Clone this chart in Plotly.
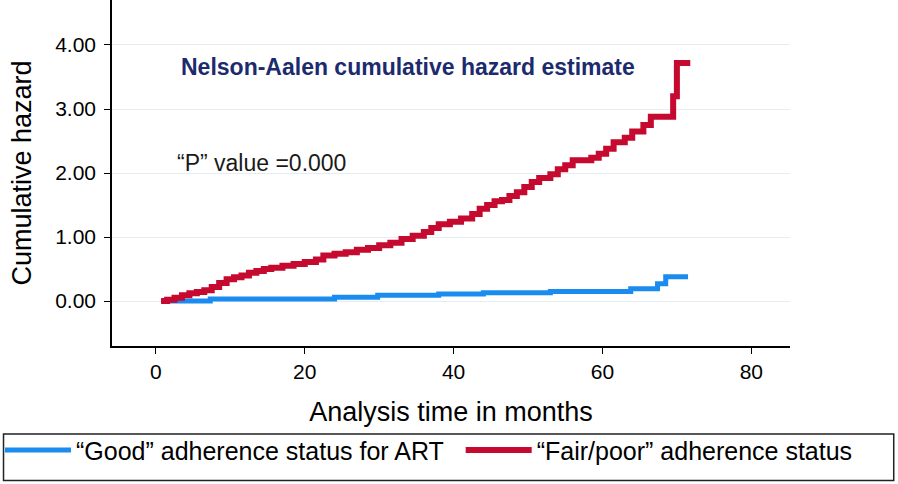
import plotly.graph_objects as go

# Nelson-Aalen cumulative hazard (step points: time in months, hazard)
good_time = [0.7, 7.3, 24.0, 29.8, 38.0, 44.0, 53.0, 63.8, 67.4, 68.5, 71.5]
good_hazard = [0.00, 0.03, 0.06, 0.09, 0.11, 0.13, 0.15, 0.19, 0.27, 0.38, 0.38]

poor_time = [0.7, 1.5, 2.5, 3.5, 4.5, 5.5, 6.5, 7.5, 8.5, 9.5, 10.5, 11.5, 12.5, 13.5,
             14.5, 15.5, 17.0, 18.5, 20.0, 21.5, 22.5, 24.0, 25.5, 27.0, 28.5, 30.0,
             31.5, 33.0, 34.5, 36.0, 37.0, 38.0, 39.5, 41.0, 42.5, 43.5, 44.5, 45.5,
             46.5, 47.5, 48.5, 49.5, 50.5, 51.5, 53.0, 54.0, 55.0, 56.0, 58.5, 59.5,
             60.5, 61.5, 63.0, 64.0, 65.5, 66.5, 69.5, 70.0, 71.8]
poor_hazard = [0.00, 0.02, 0.05, 0.09, 0.12, 0.14, 0.17, 0.22, 0.28, 0.34, 0.37, 0.40,
               0.44, 0.47, 0.50, 0.52, 0.55, 0.58, 0.61, 0.65, 0.71, 0.74, 0.76, 0.80,
               0.83, 0.87, 0.91, 0.97, 1.02, 1.08, 1.14, 1.20, 1.24, 1.29, 1.36, 1.44,
               1.50, 1.56, 1.58, 1.64, 1.70, 1.78, 1.86, 1.92, 1.98, 2.06, 2.12, 2.20,
               2.24, 2.30, 2.38, 2.48, 2.55, 2.65, 2.75, 2.88, 3.20, 3.72, 3.72]

x_ticks = [0, 20, 40, 60, 80]
y_ticks = [0, 1, 2, 3, 4]

BLUE = "#1a8cf0"
RED = "#c6092f"
FONT = "Liberation Sans, Arial, sans-serif"

fig = go.Figure()
fig.add_trace(go.Scatter(
    x=good_time, y=good_hazard, mode="lines", line_shape="hv",
    line=dict(color=BLUE, width=5),
    name="\u201cGood\u201d adherence status for ART", legend="legend",
))
fig.add_trace(go.Scatter(
    x=poor_time, y=poor_hazard, mode="lines", line_shape="hv",
    line=dict(color=RED, width=6),
    name="\u201cFair/poor\u201d adherence status", legend="legend2",
))

fig.add_annotation(x=3.1, y=3.66, xref="x", yref="y", xanchor="left", yanchor="middle",
                   text="<b>Nelson-Aalen cumulative hazard estimate</b>", showarrow=False,
                   font=dict(family=FONT, size=23, color="#1c2a6e"))
fig.add_annotation(x=2.5, y=2.16, xref="x", yref="y", xanchor="left", yanchor="middle",
                   text="\u201cP\u201d value =0.000", showarrow=False,
                   font=dict(family=FONT, size=23, color="#1a1a1a"))

# legend frame
fig.add_shape(type="rect", xref="paper", yref="paper",
              x0=-0.160, x1=1.153, y0=-0.389, y1=-0.254,
              line=dict(color="#222222", width=1.5), fillcolor="rgba(0,0,0,0)")

legend_style = dict(
    orientation="h", yanchor="top", xanchor="left", y=-0.235,
    font=dict(family=FONT, size=25, color="black"),
    bgcolor="rgba(0,0,0,0)", borderwidth=0, itemwidth=66,
)

fig.update_layout(
    width=898, height=484,
    margin=dict(l=111, r=108, t=0, b=138),
    paper_bgcolor="white", plot_bgcolor="white",
    font=dict(family=FONT, color="black"),
    showlegend=True,
    legend=dict(legend_style, x=-0.166),
    legend2=dict(legend_style, x=0.515),
)
fig.update_xaxes(
    range=[-5.9, 85.2], tickvals=x_ticks, showgrid=False, zeroline=False,
    showline=True, linecolor="black", linewidth=1.5,
    ticks="outside", ticklen=6, tickcolor="black",
    tickfont=dict(family=FONT, size=21, color="black"),
    title=dict(text="Analysis time in months", font=dict(family=FONT, size=27, color="black"),
               standoff=20),
    automargin=False,
)
fig.update_yaxes(
    range=[-0.703, 4.703], tickvals=y_ticks, tickformat=".2f",
    showgrid=True, gridcolor="#e3edf3", gridwidth=1, zeroline=False,
    showline=True, linecolor="black", linewidth=1.5,
    ticks="outside", ticklen=6, tickcolor="black", ticklabelstandoff=4,
    tickfont=dict(family=FONT, size=21, color="black"),
    title=dict(text="Cumulative hazard", font=dict(family=FONT, size=27, color="black"),
               standoff=16),
    automargin=False,
)

fig.write_html("out.html", config={"displayModeBar": False},
               post_script="document.body.style.margin='0';")
